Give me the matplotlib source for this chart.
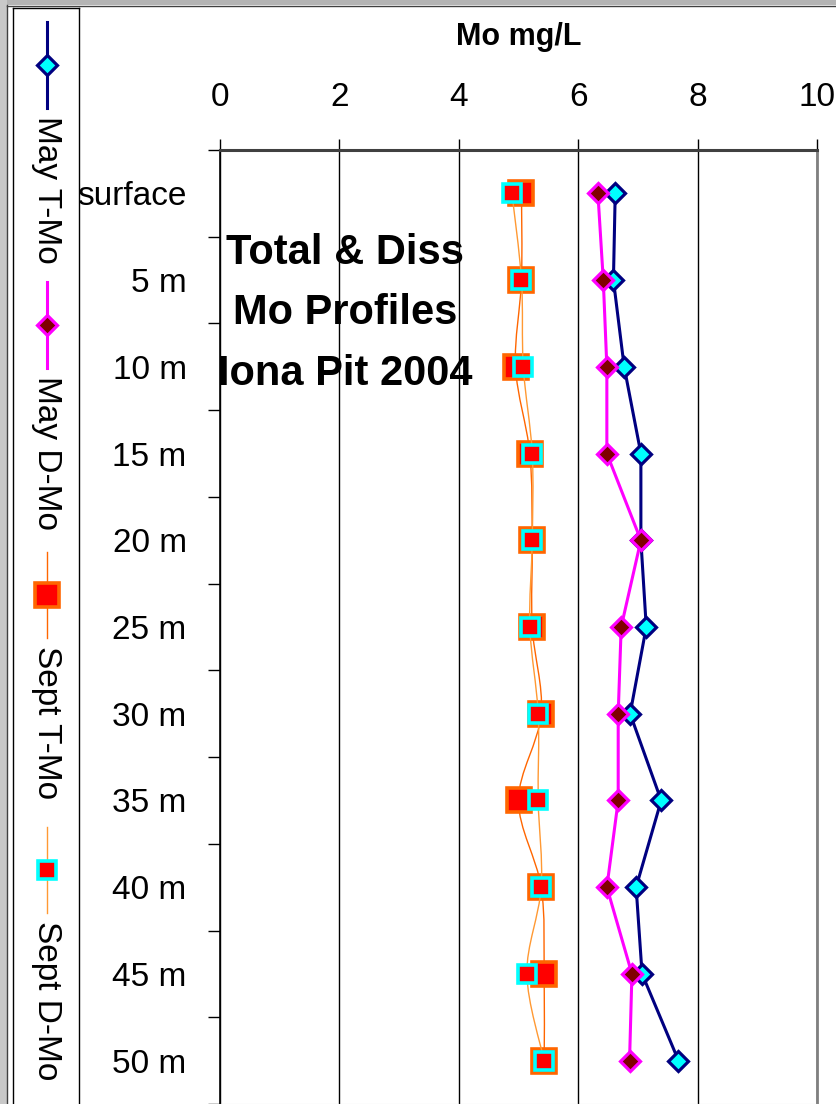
import numpy as np
import matplotlib
matplotlib.use("Agg")
import matplotlib.pyplot as plt
from matplotlib.path import Path
from matplotlib.patches import PathPatch, Rectangle
from matplotlib.lines import Line2D

plt.rcParams['font.family'] = ['Liberation Sans', 'DejaVu Sans']

# data (Mo in mg/L)
depths = ['surface', '5 m', '10 m', '15 m', '20 m', '25 m',
          '30 m', '35 m', '40 m', '45 m', '50 m']
may_t = [6.62, 6.59, 6.77, 7.05, 7.05, 7.14, 6.87, 7.39, 6.97, 7.07, 7.68]
may_d = [6.33, 6.42, 6.48, 6.48, 7.05, 6.72, 6.67, 6.67, 6.48, 6.90, 6.86]
sept_t = [5.05, 5.05, 4.95, 5.19, 5.23, 5.23, 5.38, 5.00, 5.38, 5.43, 5.43]
sept_d = [4.89, 5.05, 5.08, 5.23, 5.23, 5.19, 5.33, 5.33, 5.38, 5.14, 5.43]
x_ticks = [0, 2, 4, 6, 8, 10]

W, H = 836, 1104
fig = plt.figure(figsize=(W / 100, H / 100), dpi=100)
fig.patch.set_facecolor('white')


def smooth_path(xs, ys):
    # Excel-like smoothed line: cubic bezier through the points
    pts = np.column_stack([xs, ys]).astype(float)
    verts = [pts[0]]
    codes = [Path.MOVETO]
    n = len(pts)
    for i in range(n - 1):
        p0 = pts[i - 1] if i > 0 else pts[i]
        p1 = pts[i]
        p2 = pts[i + 1]
        p3 = pts[i + 2] if i + 2 < n else pts[i + 1]
        c1 = p1 + (p2 - p0) / 6.0
        c2 = p2 - (p3 - p1) / 6.0
        verts += [c1, c2, p2]
        codes += [Path.CURVE4] * 3
    return Path(verts, codes)


# marker styles
may_t_style = dict(color='#000080', lw=2.2, marker='D', ms=9.8,
                   mfc='#00FFFF', mec='#000080', mew=2.3)
may_d_style = dict(color='#FF00FF', lw=2.2, marker='D', ms=9.8,
                   mfc='#800000', mec='#FF00FF', mew=2.3)
sept_t_style = dict(color='#FF6600', lw=1.0, marker='s', ms=17,
                    mfc='#FF0000', mec='#FF6600', mew=2.6)
sept_d_style = dict(color='#FF9933', lw=1.0, marker='s', ms=12.5,
                    mfc='#FF0000', mec='#00FFFF', mew=2.6)


def marker_only(style):
    return {k: v for k, v in style.items() if k not in ('color', 'lw')}


# main plot area
ax = fig.add_axes([220 / W, 0.0, (817 - 220) / W, (1104 - 150) / H])
y = np.arange(len(depths))

ax.plot(may_t, y, zorder=3, **may_t_style)
ax.plot(may_d, y, zorder=4, **may_d_style)

ax.add_patch(PathPatch(smooth_path(sept_t, y), fill=False,
                       ec=sept_t_style['color'], lw=1.0, zorder=5))
ax.plot(sept_t, y, ls='none', zorder=5, **marker_only(sept_t_style))
ax.add_patch(PathPatch(smooth_path(sept_d, y), fill=False,
                       ec=sept_d_style['color'], lw=1.0, zorder=6))
ax.plot(sept_d, y, ls='none', zorder=6, **marker_only(sept_d_style))

ax.set_xlim(0, 10)
ax.set_ylim(len(depths) - 0.5, -0.5)

ax.xaxis.tick_top()
ax.set_xticks(x_ticks)
ax.set_xticklabels([str(v) for v in x_ticks])
ax.tick_params(axis='x', which='major', direction='out', length=8,
               width=1, pad=19, labelsize=24, color='black')
ax.grid(axis='x', color='black', lw=1)
ax.set_axisbelow(True)

ax.set_yticks(np.arange(-0.5, len(depths), 1.0))
ax.set_yticklabels([])
ax.set_yticks(y, minor=True)
ax.set_yticklabels(depths, minor=True)
ax.tick_params(axis='y', which='major', direction='out', length=9, width=1)
ax.tick_params(axis='y', which='minor', length=0, pad=24, labelsize=24)

ax.spines['left'].set_color('black')
ax.spines['left'].set_linewidth(1.2)
ax.spines['top'].set_color('#404040')
ax.spines['top'].set_linewidth(2.2)
ax.spines['right'].set_color('#808080')
ax.spines['right'].set_linewidth(2)
ax.spines['bottom'].set_color('#d0d0d0')

fig.text(519 / W, 1 - 37 / H, 'Mo mg/L', ha='center', va='center',
         fontsize=22, fontweight='bold')

ax.text(2.1, 1.38, 'Total & Diss\nMo Profiles\nIona Pit 2004',
        ha='center', va='center', fontsize=30, fontweight='bold',
        linespacing=1.66, zorder=10)

# vertical legend on the left
lax = fig.add_axes([12.7 / W, 0.0, 66 / W, (1104 - 8) / H])
lax.set_xlim(0, 66)
lax.set_ylim(1096, 0)
lax.set_xticks([])
lax.set_yticks([])
for s in ['left', 'right', 'top']:
    lax.spines[s].set_color('black')
    lax.spines[s].set_linewidth(1)
lax.spines['bottom'].set_visible(False)

legend_items = [('May T-Mo', may_t_style), ('May D-Mo', may_d_style),
                ('Sept T-Mo', sept_t_style), ('Sept D-Mo', sept_d_style)]
entry_tops = [14, 274, 544, 819]
cx = 34
for (label, style), top in zip(legend_items, entry_tops):
    lax.plot([cx, cx], [top, top + 86], color=style['color'], lw=style['lw'])
    lax.plot([cx], [top + 43], ls='none', **marker_only(style))
    lax.text(cx, top + 94, label, rotation=-90, ha='center', va='top',
             fontsize=24)

# window frame edges seen in the screenshot
fig.patches.append(Rectangle((0, 1 - 5 / H), 1, 5 / H, transform=fig.transFigure,
                             facecolor='#b4b4b4', edgecolor='none', zorder=0))
fig.patches.append(Rectangle((0, 0), 7 / W, 1, transform=fig.transFigure,
                             facecolor='#c8c8c8', edgecolor='none', zorder=0))
fig.add_artist(Line2D([7 / W, 7 / W], [0, 1 - 5 / H], color='#404040', lw=1,
                      transform=fig.transFigure))
fig.add_artist(Line2D([7 / W, 1], [1 - 5.5 / H, 1 - 5.5 / H], color='#404040',
                      lw=1, transform=fig.transFigure))

fig.savefig('out.png', dpi=100)
